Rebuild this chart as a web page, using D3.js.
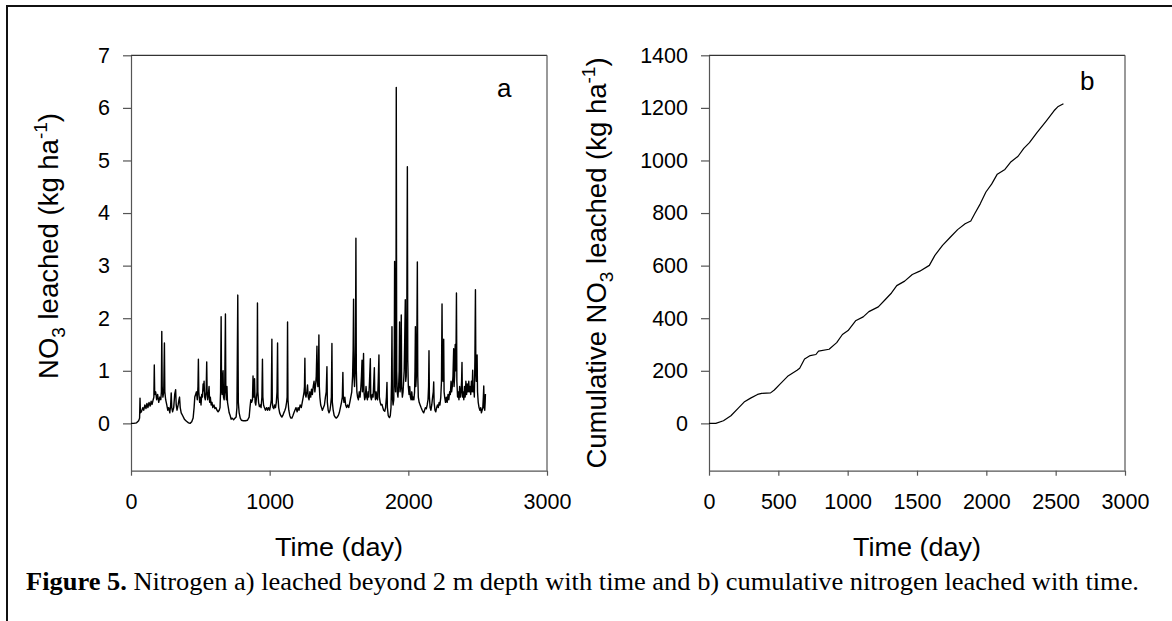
<!DOCTYPE html>
<html><head><meta charset="utf-8">
<script src="https://cdn.jsdelivr.net/npm/d3@7"></script>
<style>body{margin:0;background:#fff}svg{display:block}</style>
</head><body>
<svg id="c" width="1172" height="621"></svg>
<script>
// ---- data ----
const leachXTicks = [0, 1000, 2000, 3000];
const leachYTicks = [0, 1, 2, 3, 4, 5, 6, 7];
const cumXTicks = [0, 500, 1000, 1500, 2000, 2500, 3000];
const cumYTicks = [0, 200, 400, 600, 800, 1000, 1200, 1400];

// daily NO3 leached [day, kg/ha]
const no3Leached = [
[0,0.0],[20,0.0],[40,0.01],[55,0.05],[62,0.1],[65,0.48],[68,0.2],[75,0.22],[85,0.3],[92,0.25],[100,0.35],[108,0.28],[115,0.38],[122,0.3],[130,0.4],[138,0.33],[145,0.42],[152,0.36],[160,0.45],[165,0.5],[168,1.11],[171,0.55],[178,0.6],[185,0.45],[192,0.55],[200,0.4],[208,0.5],[215,0.45],[219,0.6],[222,1.75],[225,0.7],[230,0.5],[236,0.6],[241,1.53],[244,0.6],[250,0.45],[258,0.35],[265,0.25],[272,0.3],[280,0.2],[286,0.35],[290,0.58],[294,0.3],[300,0.22],[308,0.3],[315,0.55],[322,0.64],[326,0.35],[332,0.25],[340,0.35],[346,0.45],[350,0.5],[355,0.3],[362,0.2],[372,0.15],[385,0.08],[400,0.04],[415,0.01],[426,0.0],[438,0.03],[448,0.1],[455,0.3],[460,0.5],[466,0.55],[472,0.6],[478,0.45],[483,0.7],[486,1.22],[489,0.6],[495,0.4],[500,0.5],[505,0.35],[510,0.55],[515,0.5],[520,0.75],[524,0.62],[527,0.8],[531,0.5],[536,0.45],[542,0.6],[546,1.17],[549,0.6],[553,0.45],[558,0.55],[563,0.7],[567,0.4],[572,0.5],[578,0.35],[584,0.4],[590,0.3],[598,0.35],[605,0.28],[612,0.3],[620,0.25],[628,0.22],[636,0.25],[642,0.3],[646,0.6],[650,2.03],[653,0.7],[657,0.55],[661,0.9],[664,1.0],[667,0.5],[672,0.45],[676,0.7],[681,2.08],[684,0.6],[688,0.45],[692,0.7],[696,0.4],[702,0.3],[708,0.2],[715,0.15],[722,0.08],[730,0.1],[740,0.07],[750,0.1],[758,0.12],[764,0.3],[770,2.44],[774,0.4],[780,0.2],[788,0.1],[796,0.06],[810,0.05],[825,0.05],[840,0.06],[852,0.12],[858,0.3],[864,0.45],[870,0.4],[876,0.45],[880,0.9],[883,0.5],[887,0.5],[891,0.85],[895,0.4],[900,0.35],[905,0.5],[909,0.6],[912,2.29],[915,0.6],[920,0.4],[926,0.32],[932,0.35],[938,0.3],[944,0.5],[948,1.22],[951,0.5],[956,0.35],[962,0.3],[970,0.25],[978,0.3],[985,0.25],[992,0.3],[1000,0.25],[1007,0.35],[1012,0.45],[1016,1.6],[1019,0.4],[1024,0.3],[1030,0.28],[1036,0.35],[1042,0.3],[1048,0.4],[1053,0.6],[1057,1.53],[1060,0.5],[1065,0.3],[1072,0.2],[1080,0.15],[1088,0.12],[1095,0.15],[1102,0.2],[1110,0.25],[1116,0.3],[1122,0.4],[1126,0.5],[1129,1.93],[1132,0.45],[1138,0.25],[1145,0.15],[1152,0.1],[1160,0.1],[1168,0.15],[1175,0.2],[1182,0.25],[1190,0.3],[1198,0.22],[1205,0.3],[1212,0.25],[1220,0.35],[1228,0.3],[1235,0.4],[1242,0.5],[1248,0.6],[1251,0.7],[1254,1.24],[1257,0.55],[1262,0.5],[1268,0.6],[1273,0.73],[1278,0.5],[1284,0.45],[1290,0.6],[1296,0.5],[1302,0.65],[1308,0.55],[1314,0.7],[1320,0.8],[1326,0.6],[1332,0.75],[1336,0.9],[1341,1.47],[1344,0.8],[1348,0.7],[1352,1.0],[1355,1.68],[1358,0.7],[1362,0.5],[1368,0.35],[1374,0.3],[1380,0.25],[1388,0.3],[1395,0.35],[1402,0.5],[1408,0.6],[1413,1.08],[1416,0.4],[1422,0.25],[1428,0.2],[1435,0.25],[1440,0.35],[1445,0.5],[1449,1.52],[1452,0.4],[1458,0.25],[1465,0.15],[1472,0.12],[1480,0.1],[1488,0.12],[1495,0.15],[1502,0.2],[1510,0.3],[1518,0.4],[1524,0.5],[1528,0.97],[1531,0.5],[1536,0.4],[1542,0.5],[1548,0.35],[1555,0.3],[1562,0.35],[1570,0.3],[1578,0.4],[1585,0.5],[1592,0.6],[1598,0.9],[1602,1.4],[1605,2.36],[1608,0.9],[1612,0.7],[1616,1.0],[1619,1.5],[1622,3.52],[1625,1.0],[1629,0.6],[1634,0.5],[1640,0.45],[1646,0.6],[1652,0.5],[1658,0.7],[1662,0.9],[1666,1.2],[1669,0.6],[1673,0.8],[1677,1.33],[1680,0.6],[1685,0.45],[1690,0.5],[1695,0.7],[1700,0.5],[1705,0.45],[1710,0.6],[1715,0.5],[1720,0.8],[1726,1.23],[1729,0.5],[1734,0.45],[1740,0.55],[1746,0.5],[1751,0.8],[1755,1.06],[1758,0.6],[1763,0.45],[1768,0.6],[1772,0.5],[1778,0.45],[1783,0.8],[1788,1.3],[1791,0.5],[1797,0.4],[1803,0.35],[1810,0.36],[1816,0.3],[1822,0.25],[1830,0.23],[1836,0.3],[1842,0.5],[1846,0.78],[1849,0.3],[1855,0.15],[1860,0.12],[1865,0.11],[1870,0.15],[1875,0.3],[1879,0.8],[1882,1.84],[1885,0.5],[1890,0.35],[1895,0.45],[1899,1.5],[1901,3.08],[1904,0.8],[1908,0.6],[1911,2.0],[1913,6.39],[1916,1.0],[1920,0.6],[1925,0.5],[1930,0.7],[1934,1.0],[1937,1.93],[1940,0.6],[1945,0.7],[1949,2.06],[1952,0.7],[1957,0.5],[1962,0.6],[1966,0.8],[1970,1.0],[1974,1.6],[1978,2.35],[1981,0.8],[1985,0.9],[1989,2.0],[1993,4.88],[1996,1.2],[2000,0.7],[2005,0.55],[2010,0.7],[2015,0.5],[2020,0.45],[2025,0.6],[2030,0.45],[2035,0.5],[2040,0.45],[2045,0.6],[2048,1.0],[2051,1.84],[2054,0.7],[2058,0.9],[2062,1.8],[2065,3.07],[2068,0.9],[2072,0.5],[2078,0.4],[2085,0.35],[2092,0.3],[2100,0.25],[2106,0.22],[2111,0.2],[2117,0.25],[2123,0.3],[2130,0.28],[2136,0.35],[2142,0.45],[2146,0.7],[2149,1.38],[2152,0.5],[2157,0.3],[2163,0.25],[2169,0.35],[2175,0.5],[2180,0.6],[2183,0.79],[2186,0.4],[2192,0.25],[2198,0.22],[2204,0.3],[2210,0.35],[2216,0.3],[2222,0.4],[2228,0.35],[2234,0.5],[2239,0.8],[2243,2.27],[2246,1.0],[2250,0.8],[2255,1.6],[2258,0.6],[2262,0.5],[2268,0.4],[2274,0.5],[2280,0.4],[2286,0.55],[2292,0.45],[2298,0.6],[2303,0.55],[2308,0.8],[2312,0.6],[2317,0.7],[2322,0.9],[2327,1.42],[2330,0.7],[2334,0.9],[2338,1.5],[2343,1.0],[2347,2.48],[2350,0.8],[2355,0.5],[2360,0.6],[2365,0.45],[2370,0.7],[2375,0.5],[2380,0.6],[2384,0.8],[2387,1.16],[2390,0.5],[2395,0.6],[2400,0.45],[2405,0.7],[2410,0.5],[2415,0.8],[2420,0.55],[2425,0.75],[2430,0.6],[2436,0.8],[2440,0.6],[2445,0.7],[2450,0.55],[2455,0.8],[2460,0.6],[2464,1.01],[2468,0.6],[2472,0.7],[2476,0.5],[2480,1.2],[2482,1.9],[2484,2.54],[2487,1.0],[2490,0.8],[2493,1.0],[2496,1.3],[2499,0.6],[2504,0.4],[2510,0.3],[2516,0.25],[2522,0.3],[2527,0.2],[2532,0.25],[2537,0.3],[2541,0.5],[2544,0.71],[2547,0.3],[2551,0.25],[2554,0.4],[2556,0.56]
];

// cumulative NO3 leached [day, kg/ha]
const cumLeached = [
[0,0],[49,0],[104,10],[158,29],[213,59],[253,81],[300,96],[350,110],[380,114],[444,116],[471,127],[512,149],[567,179],[635,202],[654,210],[689,245],[730,258],[771,262],[790,275],[866,282],[921,307],[962,338],[1003,353],[1057,390],[1112,405],[1153,425],[1221,443],[1275,473],[1316,496],[1354,524],[1411,541],[1466,566],[1520,579],[1589,601],[1629,639],[1684,677],[1738,707],[1793,737],[1847,759],[1888,770],[1916,797],[1956,835],[1997,880],[2038,910],[2079,948],[2134,966],[2174,993],[2229,1016],[2270,1046],[2311,1068],[2365,1106],[2433,1151],[2488,1189],[2515,1204],[2556,1216]
];

const caption = ["Figure 5.", " Nitrogen a) leached beyond 2 m depth with time and b) cumulative nitrogen leached with time."];

// ---- drawing ----
const svg = d3.select("#c");
const SANS = "'Liberation Sans', Arial, Helvetica, sans-serif";
const SERIF = "'Liberation Serif', 'Times New Roman', Times, Tinos, 'Nimbus Roman', 'FreeSerif', serif";
const AX = "#555";

svg.append("rect").attr("width",1172).attr("height",621).attr("fill","#fff");
// frame (top + left)
svg.append("line").attr("x1",6).attr("x2",1172).attr("y1",6).attr("y2",6).attr("stroke","#111").attr("stroke-width",2);
svg.append("line").attr("x1",7).attr("x2",7).attr("y1",5).attr("y2",621).attr("stroke","#111").attr("stroke-width",2);

function panel(opt){
  const x = d3.scaleLinear().domain([0,3000]).range([opt.x0, opt.x1]);
  const y = d3.scaleLinear().domain(opt.yDomain).range([opt.yBot, opt.yTop]);
  const g = svg.append("g");

  g.append("line").attr("x1",opt.x0).attr("x2",opt.x1).attr("y1",opt.yTop).attr("y2",opt.yTop).attr("stroke","#000").attr("stroke-width",1);
  g.append("line").attr("x1",opt.x1).attr("x2",opt.x1).attr("y1",opt.yTop).attr("y2",opt.yBot).attr("stroke",AX).attr("stroke-width",1.2);

  const ya = g.append("g").attr("transform",`translate(${opt.x0},0)`)
    .call(d3.axisLeft(y).tickValues(opt.yTicks).tickSize(8).tickPadding(13).tickSizeOuter(0).tickFormat(d3.format("d")));
  const xa = g.append("g").attr("transform",`translate(0,${opt.yBot})`)
    .call(d3.axisBottom(x).tickValues(opt.xTicks).tickSize(5).tickPadding(18).tickSizeOuter(0).tickFormat(d3.format("d")));
  [ya, xa].forEach(a=>{
    a.attr("font-size",null).attr("font-family",null);
    a.select(".domain").attr("stroke",AX).attr("stroke-width",1.2);
    a.selectAll(".tick line").attr("stroke",AX).attr("stroke-width",1.2);
    a.selectAll(".tick text").attr("fill","#000").style("font-family",SANS).style("font-size","21.5px");
  });

  const line = d3.line().x(d=>x(d[0])).y(d=>y(d[1]));
  g.append("path").datum(opt.data).attr("d",line).attr("fill","none")
    .attr("stroke","#000").attr("stroke-width",opt.lw).attr("stroke-linejoin","round");

  g.append("text").attr("x",opt.letterX).attr("y",opt.letterY).text(opt.letter)
    .style("font-family",SANS).style("font-size","26px").attr("fill","#000");

  g.append("text").attr("x",(opt.x0+opt.x1)/2).attr("y",556).attr("text-anchor","middle")
    .style("font-family",SANS).style("font-size","26px").attr("fill","#000")
    .attr("textLength",128).attr("lengthAdjust","spacingAndGlyphs").text("Time (day)");

  const yt = g.append("text").attr("transform",`translate(${opt.yLabX},${opt.yLabY}) rotate(-90)`)
    .attr("text-anchor","middle").style("font-family",SANS).style("font-size","27.5px").attr("fill","#000");
  yt.append("tspan").text(opt.yLabPre + "NO");
  yt.append("tspan").attr("dy",7).style("font-size","19px").text("3");
  yt.append("tspan").attr("dy",-7).text(" leached (kg ha");
  yt.append("tspan").attr("dy",-11).style("font-size","19px").text("-1");
  yt.append("tspan").attr("dy",11).text(")");
}

panel({x0:131,x1:547,yTop:55.3,yBot:470.7,yDomain:[-0.9,7],xTicks:leachXTicks,yTicks:leachYTicks,
  data:no3Leached,lw:1.4,letter:"a",letterX:497,letterY:97,yLabX:58,yLabY:246,yLabPre:""});
panel({x0:709,x1:1125,yTop:55.3,yBot:470.7,yDomain:[-180,1400],xTicks:cumXTicks,yTicks:cumYTicks,
  data:cumLeached,lw:1.2,letter:"b",letterX:1080,letterY:90,yLabX:606,yLabY:263,yLabPre:"Cumulative "});

const cap = svg.append("text").attr("x",26).attr("y",590).style("font-family",SERIF).style("font-size","25px").attr("fill","#000")
  .attr("textLength",1113).attr("lengthAdjust","spacingAndGlyphs");
cap.append("tspan").style("font-weight","bold").text(caption[0]);
cap.append("tspan").text(caption[1]);
</script>
</body></html>
